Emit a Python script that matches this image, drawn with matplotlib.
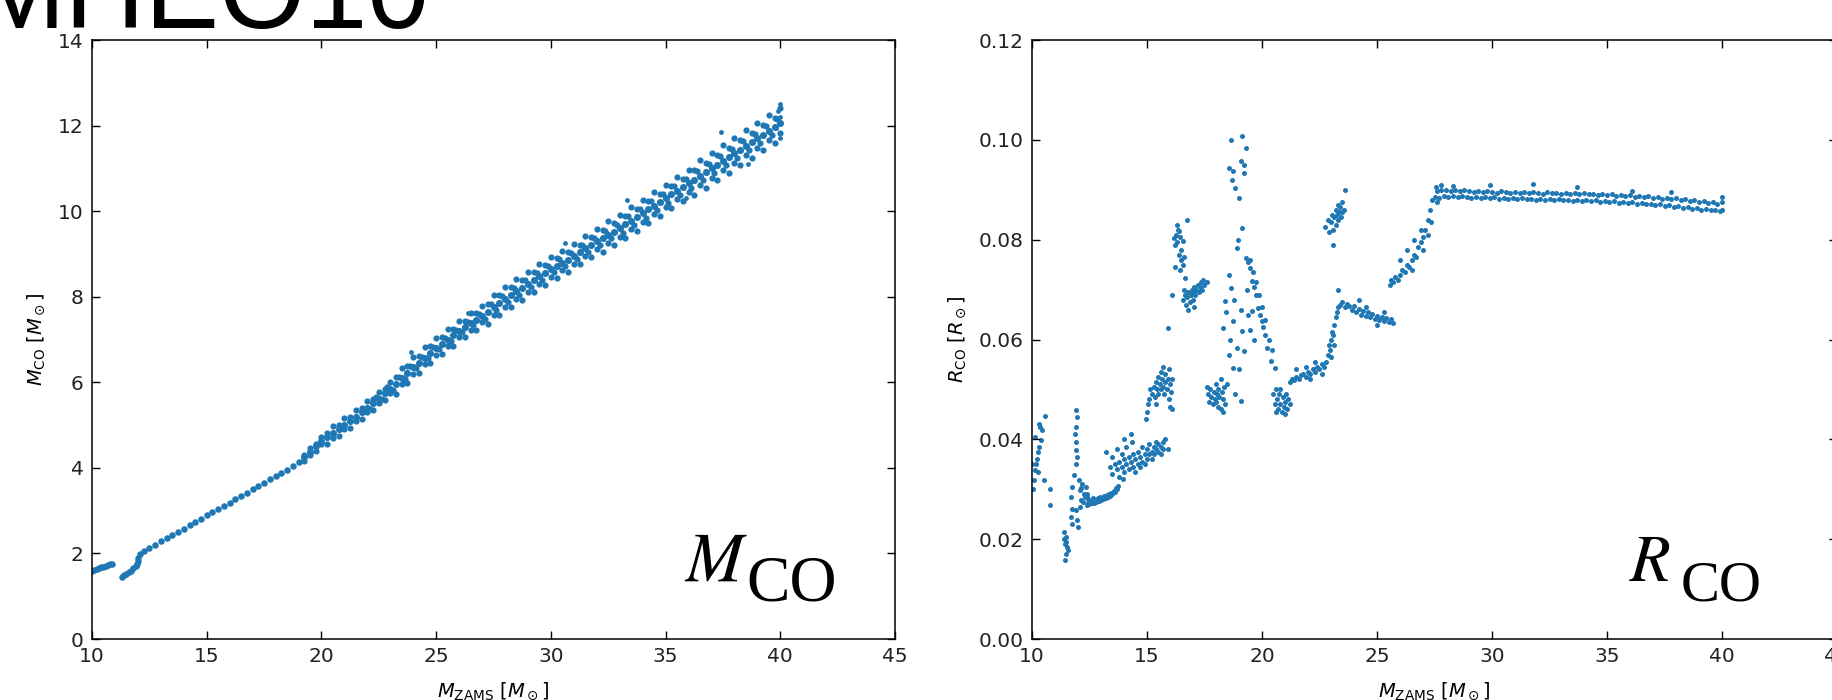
import numpy as np
import matplotlib.pyplot as plt

plt.rcParams['mathtext.fontset'] = 'dejavusans'

BLUE = '#1f77b4'

# ---------------- M_CO panel ----------------
# two short pieces below 12 Msun
mco_x_a = [10.0, 10.1, 10.2, 10.3, 10.4, 10.5, 10.6, 10.7, 10.8, 10.85]
mco_y_a = [1.60, 1.62, 1.64, 1.66, 1.68, 1.69, 1.71, 1.73, 1.75, 1.76]
mco_x_b = [11.3, 11.4, 11.5, 11.6, 11.7, 11.8, 11.9, 11.95, 12.0, 12.02, 12.1]
mco_y_b = [1.46, 1.49, 1.52, 1.56, 1.60, 1.65, 1.70, 1.75, 1.82, 1.90, 1.98]

# narrow part of the main branch
mco_x_thin = [12.25, 12.5, 12.75, 13.0, 13.25, 13.5, 13.75, 14.0, 14.25, 14.5,
              14.75, 15.0, 15.25, 15.5, 15.75, 16.0, 16.25, 16.5, 16.75, 17.0,
              17.25, 17.5, 17.75, 18.0, 18.25, 18.5, 18.75, 19.0]
mco_y_thin = [2.05, 2.12, 2.20, 2.28, 2.35, 2.43, 2.51, 2.58, 2.66, 2.73,
              2.81, 2.89, 2.96, 3.04, 3.12, 3.19, 3.27, 3.35, 3.42, 3.50,
              3.58, 3.65, 3.73, 3.81, 3.89, 3.96, 4.04, 4.13]

# broad part: centre, upper and lower edge of the cloud
mco_x_band = [19.25, 19.5, 19.75, 20.0, 20.25, 20.5, 20.75, 21.0, 21.25, 21.5,
              21.75, 22.0, 22.25, 22.5, 22.75, 23.0, 23.25, 23.5, 23.75, 24.0,
              24.25, 24.5, 24.75, 25.0, 25.25, 25.5, 25.75, 26.0, 26.25, 26.5,
              26.75, 27.0, 27.25, 27.5, 27.75, 28.0, 28.25, 28.5, 28.75, 29.0,
              29.25, 29.5, 29.75, 30.0, 30.25, 30.5, 30.75, 31.0, 31.25, 31.5,
              31.75, 32.0, 32.25, 32.5, 32.75, 33.0, 33.25, 33.5, 33.75, 34.0,
              34.25, 34.5, 34.75, 35.0, 35.25, 35.5, 35.75, 36.0, 36.25, 36.5,
              36.75, 37.0, 37.25, 37.5, 37.75, 38.0, 38.25, 38.5, 38.75, 39.0,
              39.25, 39.5, 39.75, 40.0]
mco_y_mid = [4.25, 4.37, 4.50, 4.62, 4.72, 4.81, 4.91, 5.00, 5.10, 5.20,
             5.30, 5.40, 5.51, 5.62, 5.74, 5.85, 5.97, 6.10, 6.22, 6.35,
             6.46, 6.58, 6.69, 6.80, 6.90, 7.00, 7.10, 7.20, 7.29, 7.38,
             7.46, 7.55, 7.65, 7.75, 7.85, 7.95, 8.04, 8.13, 8.21, 8.30,
             8.39, 8.48, 8.56, 8.65, 8.72, 8.80, 8.87, 8.95, 9.04, 9.13,
             9.21, 9.30, 9.37, 9.45, 9.52, 9.60, 9.69, 9.78, 9.86, 9.95,
             10.04, 10.13, 10.21, 10.30, 10.39, 10.48, 10.56, 10.65, 10.74, 10.83,
             10.91, 11.00, 11.09, 11.18, 11.26, 11.35, 11.44, 11.53, 11.61, 11.70,
             11.79, 11.88, 11.96, 12.05]
mco_y_hi = [4.31, 4.47, 4.56, 4.72, 4.82, 4.97, 5.01, 5.16, 5.20, 5.36,
            5.40, 5.56, 5.61, 5.78, 5.84, 6.01, 6.12, 6.34, 6.37, 6.59,
            6.61, 6.82, 6.84, 7.04, 7.05, 7.24, 7.25, 7.44, 7.44, 7.62,
            7.61, 7.79, 7.83, 8.03, 8.03, 8.23, 8.22, 8.41, 8.39, 8.58,
            8.57, 8.76, 8.74, 8.93, 8.90, 9.08, 9.05, 9.23, 9.22, 9.41,
            9.39, 9.58, 9.57, 9.77, 9.72, 9.92, 9.89, 10.10, 10.06, 10.27,
            10.24, 10.45, 10.41, 10.62, 10.59, 10.80, 10.76, 10.97, 10.96, 11.19,
            11.13, 11.36, 11.31, 11.54, 11.48, 11.71, 11.66, 11.89, 11.83, 12.06,
            12.01, 12.24, 12.18, 12.41]
mco_y_lo = [4.15, 4.31, 4.40, 4.56, 4.56, 4.71, 4.75, 4.90, 4.94, 5.10,
            5.14, 5.30, 5.35, 5.52, 5.58, 5.75, 5.73, 5.95, 5.98, 6.20,
            6.22, 6.43, 6.45, 6.65, 6.66, 6.85, 6.86, 7.05, 7.05, 7.23,
            7.22, 7.40, 7.37, 7.57, 7.57, 7.77, 7.76, 7.95, 7.93, 8.12,
            8.11, 8.30, 8.28, 8.47, 8.44, 8.62, 8.59, 8.77, 8.76, 8.95,
            8.93, 9.12, 9.05, 9.25, 9.20, 9.40, 9.37, 9.58, 9.54, 9.75,
            9.72, 9.93, 9.89, 10.10, 10.07, 10.28, 10.24, 10.45, 10.38, 10.61,
            10.55, 10.78, 10.73, 10.96, 10.90, 11.13, 11.08, 11.31, 11.25, 11.48,
            11.43, 11.66, 11.60, 11.83]
# in-between points where the cloud is widest
mco_x_fill = [22.125, 22.375, 22.625, 22.875, 23.125, 23.375, 23.625, 23.875, 24.125,
              24.375, 24.625, 24.875, 25.125, 25.375, 25.625, 25.875, 26.125, 26.375,
              26.625, 26.875, 27.125, 27.375, 27.625, 27.875, 28.125, 28.375, 28.625,
              28.875, 29.125, 29.375, 29.625, 29.875, 30.125, 30.375, 30.625, 30.875,
              31.125, 31.375, 31.625, 31.875, 32.125, 32.375, 32.625, 32.875, 33.125,
              33.375, 33.625, 33.875, 34.125, 34.375, 34.625, 34.875, 35.125, 35.375,
              35.625, 35.875, 36.125, 36.375, 36.625, 36.875, 37.125, 37.375, 37.625,
              37.875, 38.125, 38.375, 38.625, 38.875, 39.125, 39.375, 39.625, 39.875]
mco_y_fill = [5.38, 5.65, 5.60, 5.88, 5.83, 6.12, 6.08, 6.37, 6.33,
              6.60, 6.56, 6.83, 6.77, 7.03, 6.97, 7.23, 7.17, 7.42,
              7.34, 7.59, 7.48, 7.82, 7.68, 8.02, 7.88, 8.21, 8.05,
              8.38, 8.23, 8.56, 8.40, 8.73, 8.57, 8.88, 8.72, 9.03,
              8.88, 9.21, 9.05, 9.38, 9.22, 9.53, 9.37, 9.68, 9.50,
              9.89, 9.67, 10.06, 9.85, 10.24, 10.02, 10.41, 10.20, 10.59,
              10.37, 10.76, 10.55, 10.94, 10.72, 11.11, 10.90, 11.29, 11.07,
              11.46, 11.25, 11.64, 11.42, 11.81, 11.60, 11.99, 11.77, 12.16]
mco_x_extra = [23.9, 26.4, 30.6, 33.3, 35.9, 37.4, 38.6, 39.9, 40.0, 40.0, 40.0, 39.8]
mco_y_extra = [6.72, 7.62, 9.25, 10.25, 10.30, 11.85, 11.10, 12.35, 12.50, 12.20, 11.72, 11.95]

# ---------------- R_CO panel ----------------
r1_x = [10.04, 10.09, 10.13, 10.19, 10.23, 10.28, 10.30, 10.38, 10.42, 10.30,
        10.57, 10.25, 10.52, 10.77, 10.77, 10.02, 10.12, 10.35]
r1_y = [0.0301, 0.0318, 0.0338, 0.0351, 0.0361, 0.0375, 0.0385, 0.0398, 0.0418, 0.0431,
        0.0446, 0.0335, 0.0318, 0.0301, 0.0268, 0.0350, 0.0405, 0.0425]
r2_x = [11.39, 11.46, 11.43, 11.54, 11.46, 11.43, 11.58, 11.40, 11.50]
r2_y = [0.0215, 0.0205, 0.0191, 0.0185, 0.0171, 0.0158, 0.0178, 0.0200, 0.0195]
r3_x = [11.93, 11.97, 11.90, 11.90, 11.90, 11.90, 11.83, 11.75, 11.68, 11.72,
        11.68, 11.75, 11.93, 11.97, 12.01, 11.95, 11.88]
r3_y = [0.0459, 0.0445, 0.0425, 0.0395, 0.0378, 0.0351, 0.0328, 0.0305, 0.0285, 0.0261,
        0.0245, 0.0231, 0.0258, 0.0238, 0.0225, 0.0365, 0.0410]
r4_x = [12.04, 12.19, 12.33, 12.26, 12.12, 12.41, 12.07, 12.15, 12.30, 12.22,
        12.38, 12.10, 12.45]
r4_y = [0.0318, 0.0311, 0.0305, 0.0291, 0.0278, 0.0285, 0.0298, 0.0302, 0.0285, 0.0275,
        0.0290, 0.0265, 0.0272]
r5_x = [12.4, 12.5, 12.6, 12.7, 12.8, 12.9, 13.0, 13.1, 13.2, 13.3, 13.4, 13.5, 13.6, 13.7,
        12.45, 12.55, 12.65, 12.75, 12.85, 12.95, 13.05, 13.15, 13.25, 13.35, 13.45, 13.55,
        13.65, 13.75]
r5_y = [0.0268, 0.0270, 0.0272, 0.0273, 0.0275, 0.0276, 0.0278, 0.0280, 0.0282, 0.0284,
        0.0286, 0.0290, 0.0295, 0.0300,
        0.0280, 0.0276, 0.0283, 0.0279, 0.0282, 0.0284, 0.0282, 0.0286, 0.0288, 0.0290,
        0.0293, 0.0296, 0.0302, 0.0306]
r6_x = [13.2, 13.4, 13.5, 13.5, 13.6, 13.7, 13.7, 13.8, 13.8, 13.9, 13.9, 14.0, 14.0,
        14.0, 14.1, 14.1, 14.2, 14.2, 14.3, 14.3, 14.4, 14.4, 14.5, 14.5, 14.6, 14.6,
        14.7, 14.7, 14.8, 14.8, 14.9, 14.9, 15.0, 15.0, 15.1, 15.1, 15.2, 15.2, 15.3,
        15.3, 15.4, 15.4, 15.5, 15.5, 15.6, 15.6, 15.7, 15.7, 15.9, 14.35, 13.95, 15.8]
r6_y = [0.0375, 0.0345, 0.0330, 0.0365, 0.0350, 0.0340, 0.0380, 0.0355, 0.0325, 0.0345,
        0.0370, 0.0335, 0.0360, 0.0400, 0.0350, 0.0385, 0.0340, 0.0365, 0.0355, 0.0410,
        0.0345, 0.0370, 0.0360, 0.0335, 0.0350, 0.0375, 0.0365, 0.0345, 0.0355, 0.0385,
        0.0370, 0.0350, 0.0360, 0.0380, 0.0370, 0.0390, 0.0375, 0.0360, 0.0385, 0.0370,
        0.0380, 0.0395, 0.0375, 0.0390, 0.0385, 0.0370, 0.0395, 0.0380, 0.0380, 0.0395,
        0.0320, 0.0400]
r7_x = [14.95, 15.0, 15.05, 15.1, 15.15, 15.2, 15.3, 15.35, 15.4, 15.45, 15.5, 15.5,
        15.55, 15.6, 15.6, 15.65, 15.7, 15.7, 15.75, 15.8, 15.8, 15.85, 15.9, 15.95,
        15.95, 16.0, 16.05, 16.1, 16.0, 15.4, 15.9, 16.1]
r7_y = [0.0440, 0.0455, 0.0470, 0.0480, 0.0500, 0.0490, 0.0505, 0.0485, 0.0515, 0.0500,
        0.0525, 0.0490, 0.0510, 0.0535, 0.0500, 0.0520, 0.0505, 0.0545, 0.0490, 0.0515,
        0.0530, 0.0500, 0.0520, 0.0480, 0.0540, 0.0510, 0.0495, 0.0520, 0.0465, 0.0470,
        0.0623, 0.0460]
r8_x = [16.07, 16.16, 16.24, 16.3, 16.35, 16.41, 16.2, 16.45, 16.5, 16.57, 16.74,
        16.41, 16.5, 16.57, 16.45, 16.6, 16.66, 16.3, 16.2]
r8_y = [0.0690, 0.0803, 0.0810, 0.0795, 0.0820, 0.0817, 0.0790, 0.0805, 0.0780, 0.0797,
        0.0840, 0.0770, 0.0760, 0.0750, 0.0740, 0.0765, 0.0723, 0.0830, 0.0745]
r9_x = [16.55, 16.65, 16.7, 16.75, 16.8, 16.85, 16.9, 16.95, 17.0, 17.0, 17.05, 17.1,
        17.15, 17.2, 17.25, 17.3, 17.35, 17.4, 17.45, 17.5, 17.6, 16.8, 17.05, 16.6]
r9_y = [0.0680, 0.0690, 0.0670, 0.0685, 0.0695, 0.0675, 0.0690, 0.0700, 0.0680, 0.0695,
        0.0705, 0.0690, 0.0700, 0.0710, 0.0695, 0.0705, 0.0715, 0.0700, 0.0720, 0.0710,
        0.0715, 0.0660, 0.0665, 0.0700]
r10_x = [17.65, 17.7, 17.75, 17.8, 17.85, 17.9, 17.95, 18.0, 18.0, 18.05, 18.1, 18.1,
         18.15, 18.2, 18.2, 18.25, 18.3, 18.35, 17.6, 18.4, 18.3]
r10_y = [0.0490, 0.0475, 0.0500, 0.0485, 0.0470, 0.0495, 0.0480, 0.0510, 0.0475, 0.0490,
         0.0500, 0.0465, 0.0485, 0.0520, 0.0460, 0.0495, 0.0480, 0.0505, 0.0505, 0.0470,
         0.0455]
r11_x = [18.65, 19.15, 18.57, 18.74, 19.07, 19.23, 19.32, 18.82, 18.99, 19.15, 18.9,
         18.57, 18.4, 18.65, 18.32, 18.74, 18.57, 18.9, 18.74, 18.49, 18.82, 19.07,
         19.23, 19.15, 18.7, 19.2, 18.95, 18.45, 18.6, 19.0, 18.8, 19.1]
r11_y = [0.1000, 0.1007, 0.0943, 0.0937, 0.0957, 0.0933, 0.0983, 0.0903, 0.0883, 0.0823,
         0.0783, 0.0730, 0.0677, 0.0703, 0.0623, 0.0637, 0.0570, 0.0583, 0.0543, 0.0510,
         0.0490, 0.0477, 0.0577, 0.0617, 0.0920, 0.0950, 0.0800, 0.0655, 0.0600, 0.0540,
         0.0680, 0.0660]
r12_x = [19.32, 19.4, 19.48, 19.5, 19.57, 19.6, 19.65, 19.73, 19.75, 19.82, 19.85, 19.9,
         19.98, 20.0, 20.05, 20.15, 20.15, 20.23, 20.3, 20.4, 20.45, 20.57, 19.4, 19.57,
         19.5, 19.65, 19.35]
r12_y = [0.0763, 0.0755, 0.0743, 0.0760, 0.0717, 0.0735, 0.0705, 0.0690, 0.0715, 0.0663,
         0.0690, 0.0650, 0.0637, 0.0665, 0.0625, 0.0610, 0.0640, 0.0583, 0.0600, 0.0557,
         0.0580, 0.0543, 0.0650, 0.0657, 0.0620, 0.0600, 0.0700]
r13_x = [20.5, 20.55, 20.6, 20.65, 20.7, 20.75, 20.8, 20.85, 20.9, 20.95, 21.0, 21.05,
         21.1, 21.15, 21.2, 20.6, 20.8, 21.0]
r13_y = [0.0490, 0.0470, 0.0500, 0.0480, 0.0460, 0.0490, 0.0470, 0.0455, 0.0485, 0.0465,
         0.0475, 0.0490, 0.0460, 0.0480, 0.0470, 0.0455, 0.0500, 0.0450]
r14_x = [21.2, 21.3, 21.4, 21.5, 21.6, 21.7, 21.8, 21.9, 22.0, 22.1, 22.2, 22.3, 22.4,
         22.5, 22.6, 22.7, 22.8, 21.5, 21.9, 22.3, 22.1, 22.6]
r14_y = [0.0515, 0.0520, 0.0518, 0.0525, 0.0520, 0.0528, 0.0530, 0.0525, 0.0535, 0.0530,
         0.0540, 0.0535, 0.0545, 0.0540, 0.0550, 0.0545, 0.0555, 0.0540, 0.0545, 0.0555,
         0.0520, 0.0530]
r15_x = [22.85, 22.9, 22.95, 23.0, 23.05, 23.1, 23.15, 23.2, 23.25, 23.3, 23.0, 23.15, 23.3]
r15_y = [0.0570, 0.0590, 0.0580, 0.0600, 0.0615, 0.0610, 0.0630, 0.0645, 0.0655, 0.0665,
         0.0565, 0.0590, 0.0700]
r16_x = [23.4, 23.5, 23.6, 23.7, 23.8, 23.9, 24.0, 24.1, 24.2, 24.3, 24.4, 24.5, 24.6,
         24.7, 24.8, 24.9, 25.0, 25.1, 25.2, 25.3, 25.4, 25.5, 25.6, 25.7, 24.2, 24.5,
         25.0, 25.3]
r16_y = [0.0670, 0.0675, 0.0665, 0.0672, 0.0668, 0.0660, 0.0668, 0.0655, 0.0662, 0.0650,
         0.0658, 0.0648, 0.0655, 0.0645, 0.0652, 0.0642, 0.0648, 0.0640, 0.0646, 0.0638,
         0.0644, 0.0636, 0.0642, 0.0634, 0.0680, 0.0665, 0.0630, 0.0655]
r17_x = [22.75, 22.85, 22.9, 23.0, 23.05, 23.1, 23.15, 23.2, 23.2, 23.25, 23.3, 23.3,
         23.35, 23.4, 23.45, 23.5, 23.5, 23.6, 23.1, 23.55]
r17_y = [0.0825, 0.0840, 0.0815, 0.0835, 0.0850, 0.0820, 0.0845, 0.0860, 0.0830, 0.0850,
         0.0870, 0.0840, 0.0855, 0.0865, 0.0845, 0.0875, 0.0855, 0.0900, 0.0790, 0.0860]
r18_x = [25.55, 25.6, 25.7, 25.8, 25.9, 26.0, 26.1, 26.2, 26.3, 26.4, 26.5, 26.6, 26.7,
         26.8, 26.9, 27.0, 27.1, 27.2, 27.3, 27.4, 26.0, 26.3, 26.6, 26.9, 27.2, 27.0,
         26.5, 27.35]
r18_y = [0.0710, 0.0720, 0.0715, 0.0725, 0.0720, 0.0730, 0.0740, 0.0735, 0.0750, 0.0745,
         0.0760, 0.0770, 0.0765, 0.0785, 0.0795, 0.0805, 0.0820, 0.0840, 0.0860, 0.0880,
         0.0760, 0.0780, 0.0800, 0.0820, 0.0810, 0.0780, 0.0740, 0.0835]
# plateau above 27.5 Msun, upper and lower row of the strip
flat_x_a = [27.6, 27.8, 28.0, 28.2, 28.4, 28.6, 28.8, 29.0, 29.2, 29.4, 29.6, 29.8,
            30.0, 30.2, 30.4, 30.6, 30.8, 31.0, 31.2, 31.4, 31.6, 31.8, 32.0, 32.2,
            32.4, 32.6, 32.8, 33.0, 33.2, 33.4, 33.6, 33.8, 34.0, 34.2, 34.4, 34.6,
            34.8, 35.0, 35.2, 35.4, 35.6, 35.8, 36.0, 36.2, 36.4, 36.6, 36.8, 37.0,
            37.2, 37.4, 37.6, 37.8, 38.0, 38.2, 38.4, 38.6, 38.8, 39.0, 39.2, 39.4,
            39.6, 39.8, 40.0]
flat_y_a = [0.0897, 0.0900, 0.0899, 0.0898, 0.0900, 0.0897, 0.0899, 0.0898, 0.0896, 0.0898,
            0.0895, 0.0897, 0.0896, 0.0894, 0.0897, 0.0895, 0.0894, 0.0896, 0.0893, 0.0895,
            0.0893, 0.0895, 0.0894, 0.0892, 0.0895, 0.0893, 0.0894, 0.0892, 0.0894, 0.0892,
            0.0893, 0.0891, 0.0893, 0.0891, 0.0892, 0.0890, 0.0892, 0.0889, 0.0891, 0.0888,
            0.0890, 0.0887, 0.0889, 0.0886, 0.0888, 0.0885, 0.0887, 0.0884, 0.0886, 0.0882,
            0.0884, 0.0881, 0.0883, 0.0879, 0.0881, 0.0877, 0.0879, 0.0876, 0.0878, 0.0874,
            0.0876, 0.0872, 0.0875]
flat_x_b = [27.7, 27.9, 28.1, 28.3, 28.5, 28.7, 28.9, 29.1, 29.3, 29.5, 29.7, 29.9,
            30.1, 30.3, 30.5, 30.7, 30.9, 31.1, 31.3, 31.5, 31.7, 31.9, 32.1, 32.3,
            32.5, 32.7, 32.9, 33.1, 33.3, 33.5, 33.7, 33.9, 34.1, 34.3, 34.5, 34.7,
            34.9, 35.1, 35.3, 35.5, 35.7, 35.9, 36.1, 36.3, 36.5, 36.7, 36.9, 37.1,
            37.3, 37.5, 37.7, 37.9, 38.1, 38.3, 38.5, 38.7, 38.9, 39.1, 39.3, 39.5,
            39.7, 39.9]
flat_y_b = [0.0884, 0.0887, 0.0886, 0.0888, 0.0885, 0.0887, 0.0886, 0.0884, 0.0886, 0.0884,
            0.0885, 0.0883, 0.0885, 0.0882, 0.0884, 0.0882, 0.0883, 0.0881, 0.0883, 0.0881,
            0.0882, 0.0880, 0.0882, 0.0880, 0.0881, 0.0879, 0.0881, 0.0879, 0.0880, 0.0878,
            0.0880, 0.0878, 0.0879, 0.0877, 0.0879, 0.0876, 0.0878, 0.0875, 0.0877, 0.0874,
            0.0876, 0.0873, 0.0875, 0.0872, 0.0874, 0.0871, 0.0872, 0.0869, 0.0871, 0.0868,
            0.0869, 0.0866, 0.0868, 0.0864, 0.0866, 0.0862, 0.0864, 0.0860, 0.0862, 0.0859,
            0.0860, 0.0858]
flat_x_extra = [27.5, 27.55, 27.6, 29.9, 31.8, 33.7, 36.1, 37.8, 40.0, 40.0, 27.8, 28.3]
flat_y_extra = [0.0885, 0.0905, 0.0875, 0.0910, 0.0912, 0.0905, 0.0898, 0.0895, 0.0885,
                0.0860, 0.0910, 0.0908]

x_ticks = [10, 15, 20, 25, 30, 35, 40, 45]


def style_axes(ax):
    for sp in ax.spines.values():
        sp.set_linewidth(1.1)
    ax.tick_params(direction='in', top=True, right=True, length=6, width=1,
                   labelsize=14.5, pad=6, labelcolor='#222222')
    ax.set_xlim(10, 45)
    ax.set_xticks(x_ticks)
    ax.set_xlabel(r'$M_{\rm ZAMS}$ $[M_\odot]$', fontsize=14, labelpad=10)


fig = plt.figure(figsize=(18.33, 7.0), dpi=100)

ax1 = fig.add_axes([0.0502, 0.0871, 0.4381, 0.8557])
ax1.scatter(mco_x_a, mco_y_a, s=22, color=BLUE, linewidths=0)
ax1.scatter(mco_x_b, mco_y_b, s=22, color=BLUE, linewidths=0)
ax1.scatter(mco_x_thin, mco_y_thin, s=22, color=BLUE, linewidths=0)
ax1.scatter(mco_x_band, mco_y_mid, s=26, color=BLUE, linewidths=0)
ax1.scatter(mco_x_band, mco_y_hi, s=20, color=BLUE, linewidths=0)
ax1.scatter(mco_x_band, mco_y_lo, s=20, color=BLUE, linewidths=0)
ax1.scatter(mco_x_fill, mco_y_fill, s=20, color=BLUE, linewidths=0)
ax1.scatter(mco_x_extra, mco_y_extra, s=12, color=BLUE, linewidths=0)
style_axes(ax1)
ax1.set_ylim(0, 14)
ax1.set_yticks([0, 2, 4, 6, 8, 10, 12, 14])
ax1.set_ylabel(r'$M_{\rm CO}$ $[M_\odot]$', fontsize=14, labelpad=8)
ax1.text(0.737, 0.097, r'$M$', transform=ax1.transAxes, fontsize=50,
         math_fontfamily='stix')
ax1.text(0.815, 0.065, 'CO', transform=ax1.transAxes, fontsize=47,
         family='Liberation Serif')

rx = np.concatenate([r1_x, r2_x, r3_x, r4_x, r5_x, r6_x, r7_x, r8_x, r9_x, r10_x,
                     r11_x, r12_x, r13_x, r14_x, r15_x, r16_x, r17_x, r18_x,
                     flat_x_a, flat_x_b, flat_x_extra])
ry = np.concatenate([r1_y, r2_y, r3_y, r4_y, r5_y, r6_y, r7_y, r8_y, r9_y, r10_y,
                     r11_y, r12_y, r13_y, r14_y, r15_y, r16_y, r17_y, r18_y,
                     flat_y_a, flat_y_b, flat_y_extra])

ax2 = fig.add_axes([0.5630, 0.0871, 0.4392, 0.8557])
ax2.scatter(rx, ry, s=13, color=BLUE, linewidths=0)
style_axes(ax2)
ax2.set_ylim(0, 0.12)
ax2.set_yticks([0.0, 0.02, 0.04, 0.06, 0.08, 0.10, 0.12])
ax2.set_yticklabels(['0.00', '0.02', '0.04', '0.06', '0.08', '0.10', '0.12'])
ax2.set_ylabel(r'$R_{\rm CO}$ $[R_\odot]$', fontsize=14, labelpad=8)
ax2.text(0.742, 0.097, r'$R$', transform=ax2.transAxes, fontsize=48,
         math_fontfamily='stix')
ax2.text(0.806, 0.065, 'CO', transform=ax2.transAxes, fontsize=42,
         family='Liberation Serif')

# slide title, mostly cut off by the top edge
fig.text(-0.015, 1 - 28 / 700, 'MHEO10', fontsize=80, family='Liberation Sans',
         va='baseline', ha='left')

fig.savefig('out.png', dpi=100)
